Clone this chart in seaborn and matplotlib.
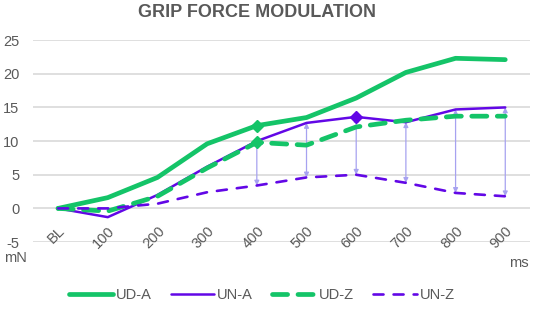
import numpy as np
import pandas as pd
import matplotlib
matplotlib.use("Agg")
import matplotlib.pyplot as plt
import seaborn as sns

# data
categories = ["BL", "100", "200", "300", "400", "500", "600", "700", "800", "900"]
ud_a = [0, 1.6, 4.6, 9.6, 12.3, 13.5, 16.4, 20.2, 22.3, 22.1]
un_a = [0, -1.3, 2.0, 6.2, 10.0, 12.7, 13.6, 12.8, 14.7, 15.0]
ud_z = [0, -0.4, 1.8, 6.0, 9.8, 9.4, 12.1, 13.1, 13.7, 13.7]
un_z = [0, 0.0, 0.7, 2.4, 3.4, 4.6, 5.0, 3.8, 2.3, 1.8]

# where the diamond markers sit
marker_pts = [("UD-A", "400"), ("UN-A", "600"), ("UD-Z", "400")]
arrow_cats = ["400", "500", "600", "700", "800", "900"]

GREEN = "#14c468"
PURPLE = "#6207e6"
ARROW = "#a7a2f0"
TEXT = "#595959"

sns.set_theme(style="white")
plt.rcParams['font.family'] = ['Liberation Sans', 'DejaVu Sans']
plt.rcParams['axes.unicode_minus'] = False

df = pd.DataFrame({"cat": categories, "UD-A": ud_a, "UN-A": un_a,
                   "UD-Z": ud_z, "UN-Z": un_z})
df["x"] = np.arange(len(categories))

fig = plt.figure(figsize=(5.36, 3.16), dpi=100)
ax = fig.add_axes([0.062, 0.234, 0.927, 0.639])

# gridlines
for yv in range(-5, 30, 5):
    ax.axhline(yv, color="#d9d9d9", lw=1.2, zorder=0)

# double arrows between UN-A and UN-Z
for c in arrow_cats:
    i = categories.index(c)
    ax.annotate("", xy=(i, un_z[i]), xytext=(i, un_a[i]),
                arrowprops=dict(arrowstyle="<|-|>", color=ARROW, lw=0.9,
                                mutation_scale=7, shrinkA=0, shrinkB=0),
                zorder=1)

styles = {
    "UD-A": dict(color=GREEN, linewidth=3.4, linestyle="-"),
    "UN-A": dict(color=PURPLE, linewidth=1.8, linestyle="-"),
    "UD-Z": dict(color=GREEN, linewidth=3.4, linestyle=(0, (3.2, 2.2))),
    "UN-Z": dict(color=PURPLE, linewidth=1.9, linestyle=(0, (3.8, 3.8))),
}
for name in ["UD-A", "UN-A", "UD-Z", "UN-Z"]:
    st = styles[name]
    sns.lineplot(data=df, x="x", y=name, ax=ax, color=st["color"],
                 linewidth=st["linewidth"], linestyle=st["linestyle"],
                 label=name, zorder=3, solid_capstyle="round",
                 dash_capstyle="round")

for name, c in marker_pts:
    i = categories.index(c)
    ax.plot(i, df[name].iloc[i], marker="D", ms=6, color=styles[name]["color"],
            zorder=4)

# category labels hang from the zero line, like the Excel original
ax.spines["bottom"].set_position(("data", 0))
ax.set_xlim(-0.5, 9.5)
ax.set_ylim(-5, 25)
ax.set_yticks(range(-5, 30, 5))
ax.set_xticks(df["x"])
ax.set_xticklabels(categories)
ax.tick_params(axis="both", colors=TEXT, labelsize=10.5, length=0)
ax.tick_params(axis="y", pad=10)
ax.tick_params(axis="x", pad=11)
plt.setp(ax.get_xticklabels(), rotation=45, ha="right",
         rotation_mode="anchor", color=TEXT)
plt.setp(ax.get_yticklabels(), color=TEXT)
ax.set_xlabel("")
ax.set_ylabel("")
for s in ax.spines.values():
    s.set_visible(False)
ax.patch.set_alpha(0)

fig.text(0.479, 0.962, "GRIP FORCE MODULATION", ha="center", va="center",
         fontsize=13, fontweight="bold", color=TEXT)
fig.text(0.008, 0.183, "mN", ha="left", va="center", fontsize=10.5, color=TEXT)
fig.text(0.968, 0.168, "ms", ha="center", va="center", fontsize=10.5, color=TEXT)

leg = ax.legend(loc="center", bbox_to_anchor=(0.46, -0.262), ncol=4,
                frameon=False, fontsize=10.5, handlelength=3.0,
                handletextpad=0.2, columnspacing=1.3)
for t in leg.get_texts():
    t.set_color(TEXT)

fig.savefig("out.png", dpi=100)
